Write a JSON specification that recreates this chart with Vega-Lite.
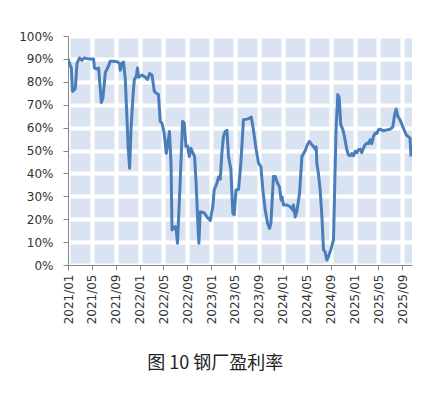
{
  "$schema": "https://vega.github.io/schema/vega-lite/v6.json",
  "width": 344,
  "height": 229,
  "autosize": {"type": "none"},
  "padding": {"left": 68, "top": 36, "right": 20, "bottom": 130},
  "background": "white",
  "view": {"fill": "#dae3f1", "stroke": null},
  "title": {
    "text": "图 10 钢厂盈利率",
    "orient": "bottom",
    "anchor": "middle",
    "frame": "bounds",
    "offset": 31,
    "font": "Noto Sans CJK SC",
    "fontSize": 18,
    "fontWeight": "normal",
    "color": "#222222"
  },
  "data": {
    "values": [
      {"date": "2021-01-01", "v": 90},
      {"date": "2021-01-13", "v": 87},
      {"date": "2021-01-18", "v": 86},
      {"date": "2021-01-24", "v": 75.8},
      {"date": "2021-02-07", "v": 77},
      {"date": "2021-02-16", "v": 88},
      {"date": "2021-02-28", "v": 90.4},
      {"date": "2021-03-13", "v": 89.4},
      {"date": "2021-03-25", "v": 90.4},
      {"date": "2021-04-14", "v": 90},
      {"date": "2021-05-11", "v": 90},
      {"date": "2021-05-16", "v": 86},
      {"date": "2021-05-29", "v": 85.6},
      {"date": "2021-06-06", "v": 86},
      {"date": "2021-06-20", "v": 71},
      {"date": "2021-06-28", "v": 73},
      {"date": "2021-07-10", "v": 84},
      {"date": "2021-07-27", "v": 87},
      {"date": "2021-08-04", "v": 89},
      {"date": "2021-08-21", "v": 89},
      {"date": "2021-09-08", "v": 88.8},
      {"date": "2021-09-21", "v": 88},
      {"date": "2021-09-24", "v": 85},
      {"date": "2021-10-03", "v": 88},
      {"date": "2021-10-11", "v": 88.6},
      {"date": "2021-10-20", "v": 81},
      {"date": "2021-10-28", "v": 65},
      {"date": "2021-11-03", "v": 52},
      {"date": "2021-11-11", "v": 42.3},
      {"date": "2021-11-18", "v": 59},
      {"date": "2021-11-28", "v": 73.6},
      {"date": "2021-12-05", "v": 81},
      {"date": "2021-12-15", "v": 82.4},
      {"date": "2021-12-21", "v": 86},
      {"date": "2021-12-27", "v": 82},
      {"date": "2022-01-13", "v": 83},
      {"date": "2022-01-30", "v": 82},
      {"date": "2022-02-10", "v": 81},
      {"date": "2022-02-21", "v": 83.6},
      {"date": "2022-03-05", "v": 83},
      {"date": "2022-03-17", "v": 75.8},
      {"date": "2022-03-27", "v": 75},
      {"date": "2022-04-07", "v": 74.4},
      {"date": "2022-04-16", "v": 62.7},
      {"date": "2022-04-25", "v": 62},
      {"date": "2022-05-06", "v": 57.6},
      {"date": "2022-05-17", "v": 48.8},
      {"date": "2022-05-23", "v": 52},
      {"date": "2022-06-02", "v": 58.3},
      {"date": "2022-06-10", "v": 44.5},
      {"date": "2022-06-15", "v": 15.3},
      {"date": "2022-06-23", "v": 16},
      {"date": "2022-07-01", "v": 16.8},
      {"date": "2022-07-07", "v": 15},
      {"date": "2022-07-13", "v": 9.5},
      {"date": "2022-07-27", "v": 37},
      {"date": "2022-08-08", "v": 62.7},
      {"date": "2022-08-16", "v": 62},
      {"date": "2022-08-25", "v": 51.8},
      {"date": "2022-09-02", "v": 52},
      {"date": "2022-09-11", "v": 47.4},
      {"date": "2022-09-19", "v": 51},
      {"date": "2022-09-30", "v": 48.8},
      {"date": "2022-10-08", "v": 47.4},
      {"date": "2022-10-16", "v": 35.7},
      {"date": "2022-10-23", "v": 21},
      {"date": "2022-10-30", "v": 9.5},
      {"date": "2022-11-06", "v": 23.3},
      {"date": "2022-11-14", "v": 23},
      {"date": "2022-11-26", "v": 22.8},
      {"date": "2022-12-10", "v": 21},
      {"date": "2022-12-27", "v": 19.4},
      {"date": "2023-01-09", "v": 25.5},
      {"date": "2023-01-16", "v": 32.8},
      {"date": "2023-01-30", "v": 35.7},
      {"date": "2023-02-07", "v": 38.4},
      {"date": "2023-02-16", "v": 37.5},
      {"date": "2023-02-24", "v": 48.8},
      {"date": "2023-03-04", "v": 56},
      {"date": "2023-03-13", "v": 58.3},
      {"date": "2023-03-22", "v": 58.8},
      {"date": "2023-03-30", "v": 47.4},
      {"date": "2023-04-11", "v": 41.6},
      {"date": "2023-04-21", "v": 22.6},
      {"date": "2023-04-28", "v": 21.9},
      {"date": "2023-05-07", "v": 32.8},
      {"date": "2023-05-20", "v": 33},
      {"date": "2023-06-01", "v": 44.5},
      {"date": "2023-06-14", "v": 63.4},
      {"date": "2023-07-02", "v": 63.7},
      {"date": "2023-07-13", "v": 64},
      {"date": "2023-07-24", "v": 64.6},
      {"date": "2023-08-04", "v": 59},
      {"date": "2023-08-18", "v": 50.3},
      {"date": "2023-08-30", "v": 44.5},
      {"date": "2023-09-11", "v": 43},
      {"date": "2023-09-21", "v": 32.8},
      {"date": "2023-10-03", "v": 24},
      {"date": "2023-10-15", "v": 18.2},
      {"date": "2023-10-25", "v": 16},
      {"date": "2023-11-01", "v": 18.2},
      {"date": "2023-11-14", "v": 38.6},
      {"date": "2023-11-23", "v": 38.6},
      {"date": "2023-12-05", "v": 35.7},
      {"date": "2023-12-15", "v": 34},
      {"date": "2023-12-23", "v": 28.4},
      {"date": "2023-12-28", "v": 29.7},
      {"date": "2024-01-04", "v": 26.2},
      {"date": "2024-01-21", "v": 26.2},
      {"date": "2024-02-07", "v": 25.5},
      {"date": "2024-02-21", "v": 24},
      {"date": "2024-02-24", "v": 26.2},
      {"date": "2024-03-04", "v": 21},
      {"date": "2024-03-12", "v": 23.3},
      {"date": "2024-03-26", "v": 31.3},
      {"date": "2024-04-07", "v": 47.4},
      {"date": "2024-04-24", "v": 50},
      {"date": "2024-05-05", "v": 52.5},
      {"date": "2024-05-15", "v": 54},
      {"date": "2024-05-28", "v": 52.5},
      {"date": "2024-06-05", "v": 51.8},
      {"date": "2024-06-14", "v": 50.5},
      {"date": "2024-06-19", "v": 51.5},
      {"date": "2024-06-22", "v": 44.5},
      {"date": "2024-06-30", "v": 40},
      {"date": "2024-07-09", "v": 32.8},
      {"date": "2024-07-18", "v": 21},
      {"date": "2024-07-26", "v": 6.6},
      {"date": "2024-08-03", "v": 5.8},
      {"date": "2024-08-12", "v": 2.2},
      {"date": "2024-08-20", "v": 3.6},
      {"date": "2024-09-01", "v": 6.6},
      {"date": "2024-09-15", "v": 11},
      {"date": "2024-09-20", "v": 29.9},
      {"date": "2024-09-28", "v": 59},
      {"date": "2024-10-07", "v": 74.4},
      {"date": "2024-10-14", "v": 73},
      {"date": "2024-10-22", "v": 61.2},
      {"date": "2024-11-02", "v": 59},
      {"date": "2024-11-10", "v": 56},
      {"date": "2024-11-22", "v": 50.3},
      {"date": "2024-11-30", "v": 48.1},
      {"date": "2024-12-09", "v": 47.7},
      {"date": "2024-12-17", "v": 48.6},
      {"date": "2024-12-26", "v": 47.7},
      {"date": "2025-01-03", "v": 49.6},
      {"date": "2025-01-12", "v": 49},
      {"date": "2025-01-20", "v": 50.3},
      {"date": "2025-01-29", "v": 50.5},
      {"date": "2025-02-06", "v": 49.1},
      {"date": "2025-02-14", "v": 51},
      {"date": "2025-02-23", "v": 52.5},
      {"date": "2025-03-04", "v": 53.2},
      {"date": "2025-03-12", "v": 53},
      {"date": "2025-03-21", "v": 54.7},
      {"date": "2025-03-29", "v": 53},
      {"date": "2025-04-06", "v": 56},
      {"date": "2025-04-15", "v": 57.6},
      {"date": "2025-04-24", "v": 57.4},
      {"date": "2025-05-02", "v": 59},
      {"date": "2025-05-11", "v": 59.3},
      {"date": "2025-05-27", "v": 58.6},
      {"date": "2025-06-14", "v": 59},
      {"date": "2025-06-30", "v": 59.3},
      {"date": "2025-07-14", "v": 60.2},
      {"date": "2025-07-22", "v": 64.9},
      {"date": "2025-07-31", "v": 68.1},
      {"date": "2025-08-09", "v": 64.9},
      {"date": "2025-08-20", "v": 63.4},
      {"date": "2025-09-06", "v": 59.8},
      {"date": "2025-09-20", "v": 56.9},
      {"date": "2025-10-02", "v": 56},
      {"date": "2025-10-10", "v": 55.4},
      {"date": "2025-10-15", "v": 47.4}
    ]
  },
  "mark": {"type": "line", "color": "#4a7ebb", "strokeWidth": 3, "strokeJoin": "round", "clip": true},
  "encoding": {
    "x": {
      "field": "date",
      "type": "temporal",
      "title": null,
      "scale": {
        "type": "utc",
        "domain": [
          {"year": 2021, "month": 1, "date": 1, "utc": true},
          {"year": 2025, "month": 10, "date": 20, "utc": true}
        ]
      },
      "axis": {
        "values": [
          {"year": 2021, "month": 1, "date": 1, "utc": true},
          {"year": 2021, "month": 5, "date": 1, "utc": true},
          {"year": 2021, "month": 9, "date": 1, "utc": true},
          {"year": 2022, "month": 1, "date": 1, "utc": true},
          {"year": 2022, "month": 5, "date": 1, "utc": true},
          {"year": 2022, "month": 9, "date": 1, "utc": true},
          {"year": 2023, "month": 1, "date": 1, "utc": true},
          {"year": 2023, "month": 5, "date": 1, "utc": true},
          {"year": 2023, "month": 9, "date": 1, "utc": true},
          {"year": 2024, "month": 1, "date": 1, "utc": true},
          {"year": 2024, "month": 5, "date": 1, "utc": true},
          {"year": 2024, "month": 9, "date": 1, "utc": true},
          {"year": 2025, "month": 1, "date": 1, "utc": true},
          {"year": 2025, "month": 5, "date": 1, "utc": true},
          {"year": 2025, "month": 9, "date": 1, "utc": true}
        ],
        "labelExpr": "utcFormat(datum.value, '%Y/%m')",
        "labelAngle": -90,
        "labelAlign": "right",
        "labelBaseline": "middle",
        "labelFont": "DejaVu Sans",
        "labelFontSize": 12,
        "labelColor": "#333333",
        "labelPadding": 4,
        "labelOverlap": false,
        "labelFlush": false,
        "tickSize": 5,
        "tickColor": "#868686",
        "domainColor": "#868686",
        "grid": true,
        "gridColor": "#ffffff",
        "gridWidth": 4,
        "gridOpacity": 1
      }
    },
    "y": {
      "field": "v",
      "type": "quantitative",
      "title": null,
      "scale": {"domain": [0, 100], "nice": false, "zero": true},
      "axis": {
        "values": [0, 10, 20, 30, 40, 50, 60, 70, 80, 90, 100],
        "labelExpr": "datum.value + '%'",
        "labelFont": "DejaVu Sans",
        "labelFontSize": 12,
        "labelColor": "#333333",
        "labelPadding": 10,
        "tickSize": 5,
        "tickColor": "#868686",
        "domainColor": "#868686",
        "grid": true,
        "gridColor": "#ffffff",
        "gridWidth": 4,
        "gridOpacity": 1
      }
    }
  }
}
